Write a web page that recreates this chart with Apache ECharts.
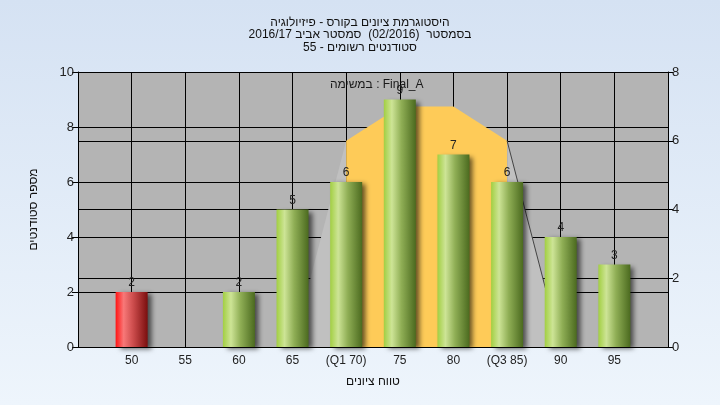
<!DOCTYPE html>
<html>
<head>
<meta charset="utf-8">
<script src="https://cdn.jsdelivr.net/npm/echarts@6/dist/echarts.min.js"></script>
<style>
html,body{margin:0;padding:0;}
#c{width:720px;height:405px;}
</style>
</head>
<body>
<div id="c" dir="rtl"></div>
<script>
// ---- data ----
const titleLines = ['היסטוגרמת ציונים בקורס - פיזיולוגיה', 'בסמסטר  (02/2016)  סמסטר אביב 2016/17', 'סטודנטים רשומים - 55'];
const seriesLabel = 'Final_A : במשימה';
const xAxisName = 'טווח ציונים';
const yAxisName = 'מספר סטודנטים';
const gradeValues = [50, 55, 60, 65, 70, 75, 80, 85, 90, 95];
const gradeLabels = ['50', '55', '60', '65', '(Q1 70)', '75', '80', '(Q3 85)', '90', '95'];
const studentCounts = [2, 0, 2, 5, 6, 9, 7, 6, 4, 3];
const failingGrades = [50];
const curveX = [65, 70, 75, 80, 85, 90];
const curveY = [0, 6, 7, 7, 6, 0];
const q1 = 70, q3 = 85;

const FONT = 'Liberation Sans, Arial, DejaVu Sans, sans-serif';
const labelMap = {};
gradeValues.forEach((v, i) => labelMap[v] = gradeLabels[i]);

function grad(stops) {
  return new echarts.graphic.LinearGradient(0, 0, 1, 0, stops.map((c, i) => ({offset: c[0], color: c[1]})));
}
const greenGrad = grad([[0, '#a2cf42'], [0.25, '#cde496'], [0.55, '#8fae55'], [1, '#4b6a1f']]);
const redGrad = grad([[0, '#ff1414'], [0.25, '#f87878'], [0.55, '#cc4c4c'], [1, '#7a0e0e']]);

const barData = [];
gradeValues.forEach((g, i) => {
  if (studentCounts[i] > 0) {
    barData.push({
      value: [g, studentCounts[i]],
      itemStyle: {color: failingGrades.includes(g) ? redGrad : greenGrad}
    });
  }
});

const curvePts = curveX.map((x, i) => [x, curveY[i]]);
const leftTail = curvePts.filter(p => p[0] <= q1);
const middle = curvePts.filter(p => p[0] >= q1 && p[0] <= q3);
const rightTail = curvePts.filter(p => p[0] >= q3);

const chart = echarts.init(document.getElementById('c'), null, {renderer: 'canvas'});
chart.setOption({
  animation: false,
  backgroundColor: new echarts.graphic.LinearGradient(0, 0, 0, 1, [
    {offset: 0, color: '#d5e2f3'}, {offset: 1, color: '#eef5fc'}
  ]),
  textStyle: {fontFamily: FONT},
  title: [{
    text: titleLines.join('\n'),
    left: 'center', top: 11,
    textStyle: {fontSize: 12, fontWeight: 'normal', color: '#111', lineHeight: 12.5, fontFamily: FONT}
  }],
  graphic: [{
    type: 'text', left: 330, top: 79, z: 10,
    style: {text: seriesLabel, fontSize: 12, fill: '#1a1a1a', font: '12px ' + FONT}
  }],
  grid: {left: 78, right: 52, top: 72, bottom: 58, show: true, backgroundColor: '#b4b4b4', borderWidth: 0},
  xAxis: {
    type: 'value', min: 45, max: 100, interval: 5,
    name: xAxisName, nameLocation: 'middle', nameGap: 29,
    nameTextStyle: {fontSize: 12, color: '#111'},
    axisLine: {show: true, lineStyle: {color: '#000', width: 1}},
    axisTick: {show: false},
    axisLabel: {
      fontSize: 12, color: '#222', margin: 8,
      formatter: v => labelMap[v] || ''
    },
    splitLine: {show: true, lineStyle: {color: '#000', width: 1}}
  },
  yAxis: [{
    type: 'value', min: 0, max: 10, interval: 2,
    name: yAxisName, nameLocation: 'middle', nameGap: 38, nameRotate: 90,
    nameTextStyle: {fontSize: 12, color: '#111'},
    axisLine: {show: true, lineStyle: {color: '#000'}},
    axisTick: {show: true, length: 6, lineStyle: {color: '#000'}},
    axisLabel: {fontSize: 13, color: '#222', margin: 4},
    splitLine: {show: true, lineStyle: {color: '#000', width: 1}}
  }, {
    type: 'value', min: 0, max: 8, interval: 2, position: 'right',
    axisLine: {show: true, lineStyle: {color: '#000'}},
    axisTick: {show: true, length: 5, lineStyle: {color: '#000'}},
    axisLabel: {fontSize: 13, color: '#222', margin: 4},
    splitLine: {show: true, lineStyle: {color: '#000', width: 1}}
  }],
  series: [{
    type: 'line', yAxisIndex: 1, data: leftTail, symbol: 'none', z: 1,
    lineStyle: {width: 0}, areaStyle: {color: '#c0c0c0', opacity: 1}
  }, {
    type: 'line', yAxisIndex: 1, data: middle, symbol: 'none', z: 1,
    lineStyle: {width: 0}, areaStyle: {color: '#fecb58', opacity: 1}
  }, {
    type: 'line', yAxisIndex: 1, data: rightTail, symbol: 'none', z: 1,
    lineStyle: {width: 1, color: '#444'}, areaStyle: {color: '#c0c0c0', opacity: 1}
  }, {
    type: 'bar', yAxisIndex: 0, data: barData, barWidth: 32, z: 3,
    itemStyle: {shadowColor: 'rgba(0,0,0,0.6)', shadowBlur: 5, shadowOffsetX: 4, shadowOffsetY: 2},
    label: {show: true, position: 'top', distance: 3, fontSize: 12, color: '#222',
      formatter: p => p.value[1]}
  }]
});
</script>
</body>
</html>
